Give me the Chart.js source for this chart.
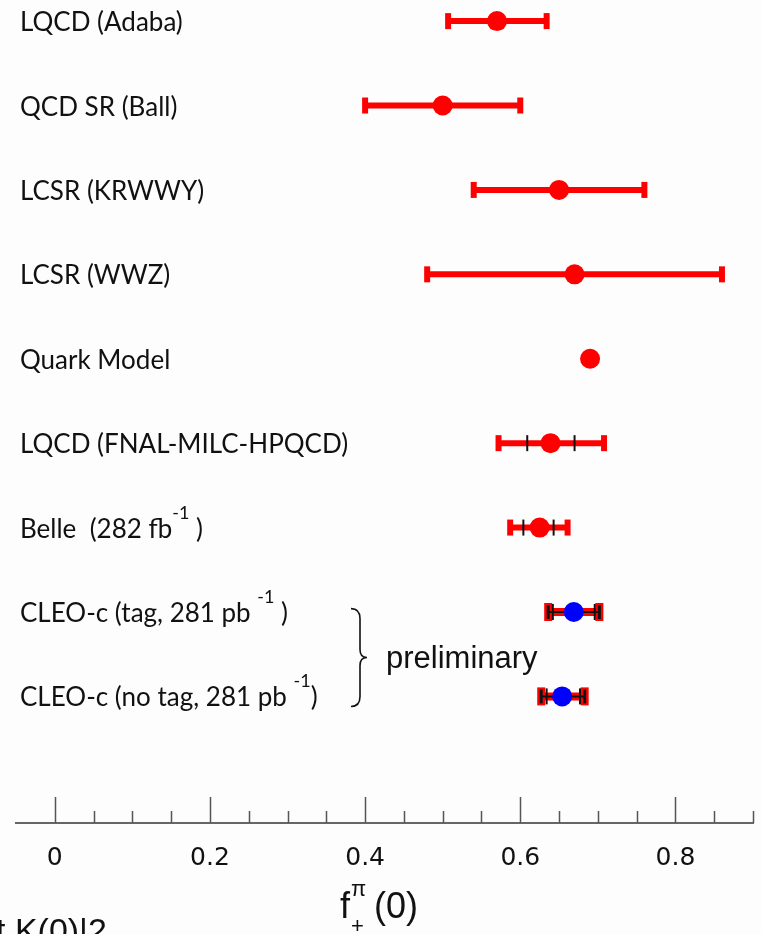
<!DOCTYPE html>
<html>
<head>
<meta charset="utf-8">
<script src="https://cdn.jsdelivr.net/npm/chart.js@4.4.0/dist/chart.umd.min.js"></script>
<style>
  html, body { margin: 0; padding: 0; background: #fdfdfd; }
  #wrap { width: 761px; height: 934px; }
</style>
</head>
<body>
<div id="wrap"><canvas id="chart" width="761" height="934"></canvas></div>
<script>
/* ---------------- Data ---------------- */

const labels = [
    "LQCD (Adaba)",
    "QCD SR (Ball)",
    "LCSR (KRWWY)",
    "LCSR (WWZ)",
    "Quark Model",
    "LQCD (FNAL-MILC-HPQCD)",
    "Belle  (282 fb^{-1} )",
    "CLEO-c (tag, 281 pb ^{-1} )",
    "CLEO-c (no tag, 281 pb ^{-1})"
];

const values   = [0.570, 0.500, 0.650, 0.670, 0.690, 0.639, 0.625, 0.669, 0.654];
const errLow   = [0.507, 0.400, 0.540, 0.480, null,  0.572, 0.587, 0.636, 0.627];
const errHigh  = [0.634, 0.600, 0.760, 0.860, null,  0.708, 0.661, 0.702, 0.683];
const statLow  = [null,  null,  null,  null,  null,  0.609, 0.604, 0.642, 0.634];
const statHigh = [null,  null,  null,  null,  null,  0.670, 0.643, 0.696, 0.677];

const pointColors = ["red", "red", "red", "red", "red", "red", "red", "blue", "blue"];

const majorTicks = [0, 0.2, 0.4, 0.6, 0.8];
const minorTicks = [0.05, 0.1, 0.15, 0.25, 0.3, 0.35, 0.45, 0.5, 0.55, 0.65, 0.7, 0.75, 0.85, 0.9];

const LABEL_FONT = "Lato, 'Open Sans', sans-serif";
const ARIAL = "'Liberation Sans', Arial, sans-serif";

/* ---------------- Datasets ---------------- */

const datasets = [];

// central values
datasets.push({
    data: values.map((v, i) => ({ x: v, y: i })),
    pointRadius: 10,
    pointBackgroundColor: pointColors,
    pointBorderWidth: 0,
    order: 0
});

// total error bars, with caps drawn as rotated line points
labels.forEach((_, i) => {

    if (errLow[i] == null) return;

    const bar = [{ x: errLow[i], y: i }, { x: errHigh[i], y: i }];

    if (pointColors[i] === "blue") {
        // red halo under a thin black bar
        datasets.push({
            data: bar, showLine: true,
            borderColor: "red", borderWidth: 8,
            pointStyle: "line", pointRotation: 90,
            pointRadius: 9, pointBorderWidth: 8, pointBorderColor: "red",
            order: 4
        });
        datasets.push({
            data: bar, showLine: true,
            borderColor: "#111", borderWidth: 2,
            pointStyle: "line", pointRotation: 90,
            pointRadius: 7, pointBorderWidth: 3, pointBorderColor: "#111",
            order: 3
        });
    } else {
        datasets.push({
            data: bar, showLine: true,
            borderColor: "red", borderWidth: 6,
            pointStyle: "line", pointRotation: 90,
            pointRadius: 8, pointBorderWidth: 6, pointBorderColor: "red",
            order: 3
        });
    }

});

// statistical error ticks
const statPoints = [];
labels.forEach((_, i) => {
    if (statLow[i] == null) return;
    statPoints.push({ x: statLow[i], y: i }, { x: statHigh[i], y: i });
});

datasets.push({
    data: statPoints,
    showLine: false,
    pointStyle: "line", pointRotation: 90,
    pointRadius: 8, pointBorderWidth: 2, pointBorderColor: "#111",
    order: 1
});

/* ---------------- Drawing helpers ---------------- */

function drawLabel(ctx, text, x, baseline) {
    const parts = text.split(/\^\{(.*?)\}/);
    let cx = x;
    parts.forEach((part, k) => {
        const sup = k % 2 === 1;
        ctx.font = sup ? `18px ${LABEL_FONT}` : `26px ${LABEL_FONT}`;
        ctx.fillText(part, cx, sup ? baseline - 19 : baseline);
        cx += ctx.measureText(part).width;
    });
}

const overlay = {
    id: "overlay",

    beforeDraw(chart) {
        const { ctx, width, height } = chart;
        ctx.save();
        ctx.fillStyle = "#fdfdfd";
        ctx.fillRect(0, 0, width, height);
        ctx.restore();
    },

    afterDraw(chart) {
        const { ctx, chartArea } = chart;
        const x = chart.scales.x;
        const y = chart.scales.y;
        const bottom = chartArea.bottom;

        ctx.save();

        // tick marks pointing up from the axis line
        ctx.strokeStyle = "#555";
        ctx.lineWidth = 1.5;
        ctx.beginPath();
        majorTicks.forEach(v => {
            const px = Math.round(x.getPixelForValue(v)) + 0.5;
            ctx.moveTo(px, bottom - 26);
            ctx.lineTo(px, bottom);
        });
        minorTicks.forEach(v => {
            const px = Math.round(x.getPixelForValue(v)) + 0.5;
            ctx.moveTo(px, bottom - 12);
            ctx.lineTo(px, bottom);
        });
        ctx.stroke();

        // row labels
        ctx.fillStyle = "#111";
        ctx.textAlign = "left";
        ctx.textBaseline = "alphabetic";
        labels.forEach((txt, i) => {
            drawLabel(ctx, txt, 20, y.getPixelForValue(i) + 10);
        });

        // brace for the two CLEO-c rows
        const top = y.getPixelForValue(6.96);
        const bot = y.getPixelForValue(8.12);
        const mid = (top + bot) / 2;
        const bx = 360;
        ctx.strokeStyle = "#111";
        ctx.lineWidth = 1.6;
        ctx.beginPath();
        ctx.moveTo(bx - 9, top);
        ctx.quadraticCurveTo(bx, top, bx, top + 10);
        ctx.lineTo(bx, mid - 8);
        ctx.quadraticCurveTo(bx, mid, bx + 7, mid);
        ctx.quadraticCurveTo(bx, mid, bx, mid + 8);
        ctx.lineTo(bx, bot - 10);
        ctx.quadraticCurveTo(bx, bot, bx - 9, bot);
        ctx.stroke();

        ctx.font = `31px ${ARIAL}`;
        ctx.fillText("preliminary", 386, mid + 10);

        // axis title f^pi_+(0)
        ctx.font = `36px ${ARIAL}`;
        ctx.fillText("f", 340, 918);
        ctx.font = `22px ${ARIAL}`;
        ctx.fillText("\u03C0", 351, 896);
        ctx.fillText("+", 351, 933);
        ctx.font = `36px ${ARIAL}`;
        ctx.fillText("(0)", 374, 918);

        // text cut off at the bottom edge
        ctx.font = `34px ${ARIAL}`;
        ctx.fillText("t K(0)|2", -4, 942);

        ctx.restore();
    }
};

/* ---------------- Chart ---------------- */

new Chart(document.getElementById("chart").getContext("2d"), {

    type: "scatter",

    data: { datasets },

    options: {
        responsive: false,
        animation: false,
        devicePixelRatio: 1,
        layout: {
            autoPadding: false,
            padding: { left: 16, right: 8, top: 0, bottom: 0 }
        },
        plugins: {
            legend: { display: false },
            tooltip: { enabled: false }
        },
        scales: {
            x: {
                type: "linear",
                position: "bottom",
                min: -0.05,
                max: 0.9,
                grid: { display: false, drawTicks: false },
                border: { display: true, color: "#666", width: 2 },
                afterBuildTicks(scale) {
                    scale.ticks = majorTicks.map(v => ({ value: v }));
                },
                afterFit(scale) {
                    scale.height = 111;
                },
                ticks: {
                    padding: 20,
                    color: "#111",
                    font: { family: "'DejaVu Sans'", size: 25 },
                    callback: v => String(v)
                }
            },
            y: {
                type: "linear",
                display: false,
                reverse: true,
                min: -0.25,
                max: 9.5
            }
        }
    },

    plugins: [overlay]

});
</script>
</body>
</html>
